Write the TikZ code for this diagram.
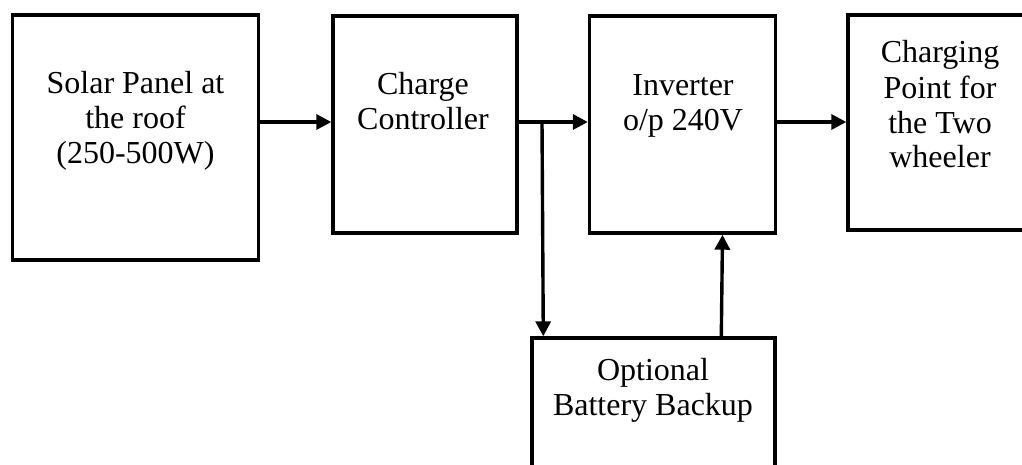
\documentclass[tikz,border=0pt]{standalone}
\usepackage{fontspec}
\setmainfont{Liberation Serif}
\usetikzlibrary{arrows.meta,positioning}
\tikzset{
  blockbox/.style={draw, line width=3.4pt, inner sep=0pt, fill=white},
  blocktext/.style={align=center, anchor=base, inner sep=0pt,
    font=\fontsize{32}{35}\selectfont},
  arr/.style={-{Triangle[length=15pt, width=15pt]}, line width=3.4pt}
}
\begin{document}
\begin{tikzpicture}[x=1pt, y=-1pt]
    \path[use as bounding box] (0,0) rectangle (1022,465);
    \clip (0,0) rectangle (1022,465);
    \node[blockbox, minimum width=246pt, minimum height=245pt] (solar) at (135.5,137.5) {};
    \node[blockbox, minimum width=184pt, minimum height=217pt] (charge) at (425,124.5) {};
    \node[blockbox, minimum width=186pt, minimum height=217pt] (inverter) at (682.5,124.5) {};
    \node[blockbox, minimum width=192pt, minimum height=215pt] (point) at (944,122.5) {};
    \node[blockbox, minimum width=243pt, minimum height=152pt] (battery) at (653.5,414) {};
    \node[blocktext] (solartext) at (135.5,164) {Solar Panel at\\the roof\\(250-500W)};
    \node[blocktext] (chargetext) at (423,130) {Charge\\Controller};
    \node[blocktext] (invertertext) at (683,131) {Inverter\\o/p 240V};
    \node[blocktext] (pointtext) at (940,168) {Charging\\Point for\\the Two\\wheeler};
    \node[blocktext] (batterytext) at (653,415) {Optional\\Battery Backup};
    \coordinate (row) at (0,122);
    \coordinate (split) at (542,122);
    \draw[arr] (solar.east |- row) -- (charge.west |- row);
    \draw[arr] (charge.east |- row) -- (inverter.west |- row);
    \draw[arr] (inverter.east |- row) -- (point.west |- row);
    \draw[arr] (split) -- ([xshift=13pt]battery.north west);
    \draw[arr] ([xshift=191pt]battery.north west) -- ([xshift=40pt]inverter.south);
  \end{tikzpicture}
\end{document}
